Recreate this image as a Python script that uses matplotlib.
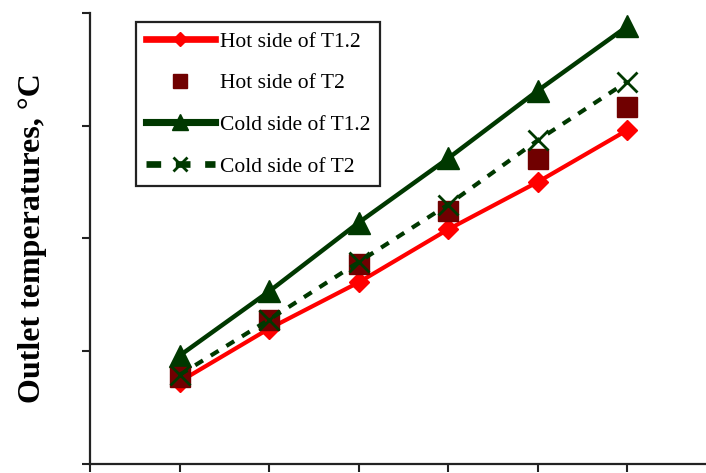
import matplotlib
matplotlib.use("Agg")
import matplotlib.pyplot as plt

# Inlet temperature settings (x) and measured outlet temperatures (°C)
inlet_temp = [30, 40, 50, 60, 70, 80]
hot_t12 = [27.3, 32.0, 36.1, 40.8, 45.0, 49.6]
hot_t2 = [27.7, 32.8, 37.7, 42.4, 47.0, 51.6]
cold_t12 = [29.6, 35.3, 41.4, 47.1, 53.1, 58.8]
cold_t2 = [27.9, 32.8, 37.9, 43.0, 48.7, 53.9]

series_labels = ["Hot side of T1.2", "Hot side of T2", "Cold side of T1.2", "Cold side of T2"]
x_ticks = [20, 30, 40, 50, 60, 70, 80, 90]
y_ticks = [20, 30, 40, 50, 60]

fig = plt.figure(figsize=(7.06, 4.73), dpi=100)
ax = fig.add_axes([90 / 706, 9 / 473, 627 / 706, 451.3 / 473])

red = "#ff0000"
dark_red = "#700000"
dark_green = "#003800"

ax.plot(inlet_temp, hot_t12, color=red, lw=3, marker="D", markersize=10,
        label=series_labels[0], zorder=3)
ax.plot(inlet_temp, hot_t2, color=dark_red, lw=0, marker="s", markersize=14,
        label=series_labels[1], zorder=4)
ax.plot(inlet_temp, cold_t12, color=dark_green, lw=3.2, marker="^", markersize=16,
        label=series_labels[2], zorder=3)
ax.plot(inlet_temp, cold_t2, color=dark_green, lw=3, linestyle=(0, (2.2, 2.2)),
        marker="x", markersize=14, markeredgewidth=2, label=series_labels[3], zorder=5)

ax.set_xlim(20, 90)
ax.set_ylim(20, 60)
ax.set_xticks(x_ticks)
ax.set_yticks(y_ticks)
ax.tick_params(axis="both", direction="out", length=6, width=1.5, color="#222222",
               labelleft=False, labelbottom=False)

for side in ("top", "right"):
    ax.spines[side].set_visible(False)
for side in ("left", "bottom"):
    ax.spines[side].set_linewidth(1.6)
    ax.spines[side].set_color("#222222")

ax.set_ylabel("Outlet temperatures, °C", family="Liberation Serif", fontweight="bold",
              fontsize=23, labelpad=25)

leg = ax.legend(loc="upper left", bbox_to_anchor=(46 / 627, (464 - 22) / 451.3),
                borderaxespad=0, fancybox=False, framealpha=1, edgecolor="#222222",
                prop={"family": "Liberation Serif", "size": 15.5}, handlelength=3.2,
                markerscale=0.7, labelspacing=1.0, handletextpad=0.25,
                borderpad=0.45)
leg.get_frame().set_linewidth(1.6)
for line in leg.get_lines():
    line.set_linewidth(line.get_linewidth() * 1.6)

fig.savefig("out.png", dpi=100)
